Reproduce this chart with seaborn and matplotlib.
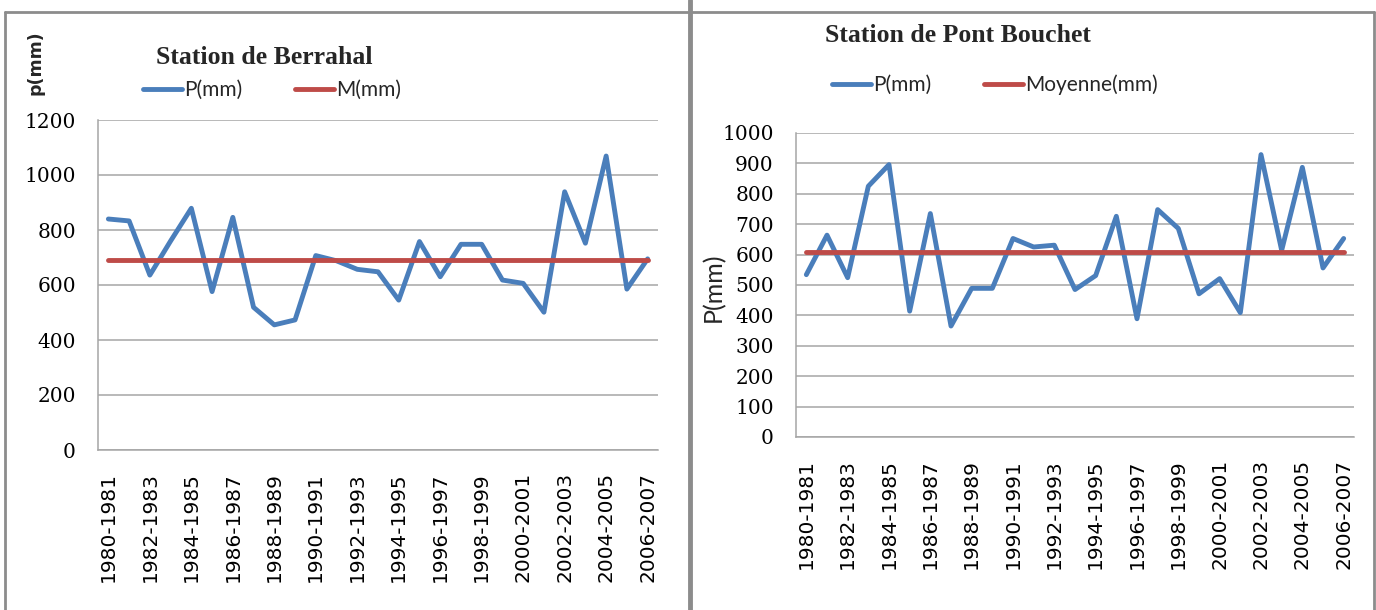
import matplotlib
matplotlib.use("Agg")
import matplotlib.pyplot as plt
from matplotlib.lines import Line2D
import seaborn as sns
import pandas as pd

# ---- data ----
periods = [f"{y}-{y+1}" for y in range(1980, 2007)]
p_berrahal = [840, 833, 636, 760, 879, 576, 846, 519, 455, 473, 707, 688, 657, 648,
              545, 758, 630, 748, 748, 618, 606, 501, 939, 752, 1069, 585, 695]
m_berrahal = 691
p_pont = [534, 664, 524, 825, 896, 414, 735, 365, 489, 489, 653, 625, 631, 485,
          531, 726, 389, 748, 686, 471, 521, 409, 929, 614, 887, 556, 653]
m_pont = 609

titles = ["Station de Berrahal", "Station de Pont Bouchet"]
legend_labels = [("P(mm)", "M(mm)"), ("P(mm)", "Moyenne(mm)")]
y_labels = ["p(mm)", "P(mm)"]

BLUE = "#4a7ebb"
RED = "#be4b48"
GRID = "#a6a6a6"

sns.set_style("white")
plt.rcParams["font.family"] = ["DejaVu Sans"]

fig = plt.figure(figsize=(13.76, 6.10), dpi=100)
W, H = 1376.0, 610.0

def fx(px):
    return px / W

def fy(py):
    return 1 - py / H

ax1 = fig.add_axes([fx(98), fy(450), fx(658) - fx(98), fy(120) - fy(450)])
ax2 = fig.add_axes([fx(796), fy(437), fx(1354) - fx(796), fy(133) - fy(437)])

configs = [
    (ax1, p_berrahal, m_berrahal, 1200, 200),
    (ax2, p_pont, m_pont, 1000, 100),
]

for i, (ax, pvals, mval, ymax, step) in enumerate(configs):
    df = pd.DataFrame({"Période": periods, "P": pvals, "M": [mval] * len(periods)})
    sns.lineplot(data=df, x="Période", y="P", ax=ax, color=BLUE, lw=3.5,
                 label=legend_labels[i][0], legend=False, sort=False)
    sns.lineplot(data=df, x="Période", y="M", ax=ax, color=RED, lw=3.5,
                 label=legend_labels[i][1], legend=False, sort=False)
    ax.set_xlim(-0.5, len(periods) - 0.5)
    ax.set_ylim(0, ymax)
    ax.set_yticks(range(0, ymax + 1, step))
    ax.set_yticklabels([str(v) for v in range(0, ymax + 1, step)],
                       fontfamily="DejaVu Serif", fontsize=14.5, color="black")
    ax.set_xticks(range(0, len(periods), 2))
    ax.set_xticklabels(periods[::2], rotation=90, fontsize=14.5,
                       fontfamily="DejaVu Sans", color="black")
    ax.tick_params(axis="y", length=0, pad=16)
    ax.tick_params(axis="x", length=0, pad=16)
    ax.yaxis.grid(True, color=GRID, lw=1.1)
    ax.xaxis.grid(False)
    for s in ["top", "right"]:
        ax.spines[s].set_visible(False)
    for s in ["left", "bottom"]:
        ax.spines[s].set_color(GRID)
        ax.spines[s].set_linewidth(1.1)
    ax.set_xlabel("")
    ax.set_ylabel("")

# titles
fig.text(fx(264), fy(58), titles[0], ha="center", va="center",
         fontfamily="Liberation Serif", fontweight="bold", fontsize=18.5)
fig.text(fx(958), fy(35), titles[1], ha="center", va="center",
         fontfamily="Liberation Serif", fontweight="bold", fontsize=18.5)

# legends
for ax, cx, cy in [(ax1, 272, 90), (ax2, 995, 85)]:
    leg = ax.legend(loc="center", bbox_to_anchor=(fx(cx), fy(cy)),
                    bbox_transform=fig.transFigure, ncol=2, frameon=False,
                    handlelength=1.9, handletextpad=0.1, columnspacing=2.5,
                    prop={"family": "Lato", "size": 15})
    for h in leg.get_lines():
        h.set_linewidth(3.5)

# y labels
fig.text(fx(35), fy(63), y_labels[0], rotation=90, ha="center", va="center",
         fontfamily="DejaVu Sans", fontweight="bold", fontsize=12.5)
fig.text(fx(713), fy(287), y_labels[1], rotation=90, ha="center", va="center",
         fontfamily="Lato", fontsize=18)

# panel borders
BORDER = "#8c8c8c"
def fline(x0, y0, x1, y1, lw=2):
    fig.add_artist(Line2D([fx(x0), fx(x1)], [fy(y0), fy(y1)],
                          transform=fig.transFigure, color=BORDER, lw=lw))

fline(5, 12, 5, 610)
fline(5, 12, 688, 12)
fline(689.5, 0, 689.5, 610, lw=3.5)
fline(692, 12, 1374, 12)
fline(1374, 12, 1374, 610)

fig.savefig("out.png", dpi=100)
